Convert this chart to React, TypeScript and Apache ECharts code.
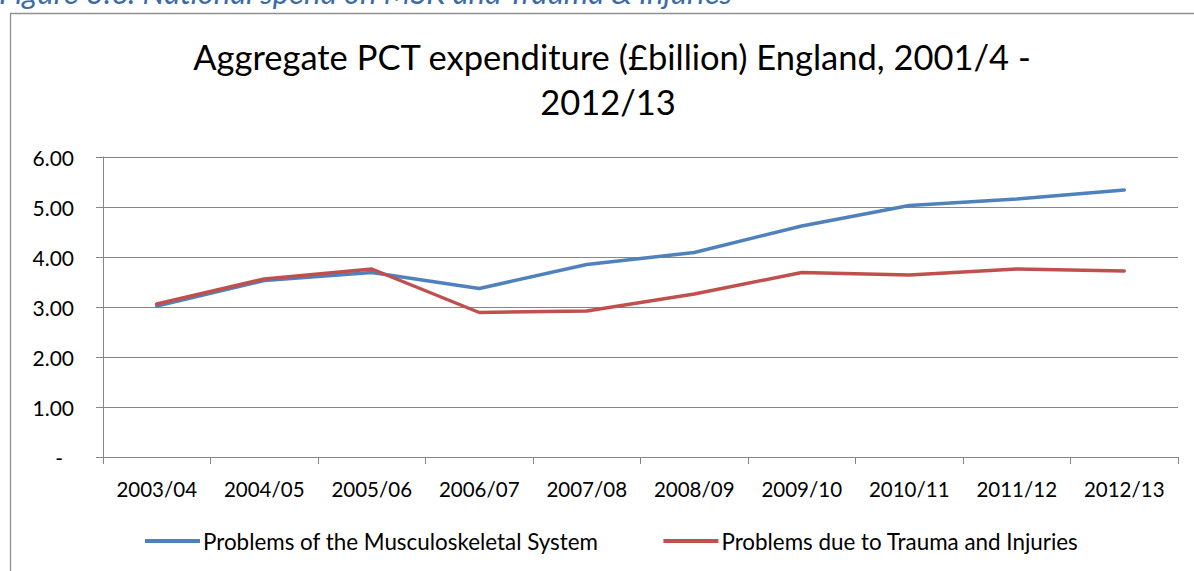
import React, { useEffect, useRef } from "react";
import * as echarts from "echarts";

const categories = ["2003/04", "2004/05", "2005/06", "2006/07", "2007/08", "2008/09", "2009/10", "2010/11", "2011/12", "2012/13"];
const musculoskeletal = [3.02, 3.53, 3.69, 3.37, 3.85, 4.09, 4.62, 5.03, 5.16, 5.34];
const traumaInjuries = [3.06, 3.56, 3.76, 2.89, 2.92, 3.26, 3.69, 3.64, 3.76, 3.72];
const seriesNames = ["Problems of the Musculoskeletal System", "Problems due to Trauma and Injuries"];
const titleLines = ["Aggregate PCT expenditure (£billion) England, 2001/4 -", "2012/13"];
const captionText = "Figure 3.6: National spend on MSK and Trauma & Injuries";

const FONT = "Lato, 'Open Sans', sans-serif";

export default function App() {
  const ref = useRef<HTMLDivElement>(null);
  useEffect(() => {
    if (!ref.current) return;
    const chart = echarts.init(ref.current, undefined, { renderer: "svg" });
    chart.setOption({
      animation: false,
      backgroundColor: "#ffffff",
      graphic: [
        {
          type: "text",
          x: -1,
          y: -8,
          style: { text: captionText, fill: "#3b6aa8", font: `italic 31px ${FONT}`, align: "left", verticalAlign: "middle" },
        },
        {
          type: "rect",
          shape: { x: 10.5, y: 13.5, width: 1200, height: 600 },
          style: { fill: "none", stroke: "#909090", lineWidth: 1.3 },
          z: -10,
        },
        {
          type: "text",
          x: 612,
          y: 56,
          style: { text: titleLines[0], fill: "#000", font: `34.5px ${FONT}`, align: "center", verticalAlign: "middle" },
        },
        {
          type: "text",
          x: 608,
          y: 101,
          style: { text: titleLines[1], fill: "#000", font: `34.5px ${FONT}`, align: "center", verticalAlign: "middle" },
        },
      ],
      grid: { left: 103, right: 16, top: 157, bottom: 114, containLabel: false },
      legend: {
        left: 145,
        top: 530,
        padding: 0,
        itemWidth: 55,
        itemHeight: 4,
        itemGap: 65,
        icon: "rect",
        textStyle: { fontFamily: FONT, fontSize: 22.4, color: "#000", padding: [0, 0, 0, -2] },
        data: seriesNames,
      },
      xAxis: {
        type: "category",
        data: categories,
        boundaryGap: true,
        axisLine: { show: true, lineStyle: { color: "#868686", width: 1 } },
        axisTick: { show: true, length: 7, alignWithLabel: false, lineStyle: { color: "#868686" } },
        axisLabel: { fontFamily: FONT, fontSize: 20.5, color: "#000", margin: 21, interval: 0 },
        splitLine: { show: false },
      },
      yAxis: {
        type: "value",
        min: 0,
        max: 6,
        interval: 1,
        axisLine: { show: true, lineStyle: { color: "#868686", width: 1 } },
        axisTick: { show: true, length: 7, lineStyle: { color: "#868686" } },
        axisLabel: {
          fontFamily: FONT,
          fontSize: 21,
          color: "#000",
          margin: 29,
          formatter: (v: number) => (v === 0 ? "{d|-}" : v.toFixed(2)),
          rich: { d: { fontFamily: FONT, fontSize: 21, color: "#000", padding: [0, 11, 0, 0] } },
        },
        splitLine: { show: true, lineStyle: { color: "#868686", width: 1 } },
      },
      series: [
        {
          name: seriesNames[0],
          type: "line",
          data: musculoskeletal,
          symbol: "none",
          lineStyle: { color: "#4f81bd", width: 3.5, cap: "round", join: "round" },
          itemStyle: { color: "#4f81bd" },
        },
        {
          name: seriesNames[1],
          type: "line",
          data: traumaInjuries,
          symbol: "none",
          lineStyle: { color: "#c0504d", width: 3.5, cap: "round", join: "round" },
          itemStyle: { color: "#c0504d" },
        },
      ],
    });
    return () => chart.dispose();
  }, []);
  return <div ref={ref} style={{ position: "absolute", left: 0, top: 0, width: 1194, height: 571 }} />;
}
